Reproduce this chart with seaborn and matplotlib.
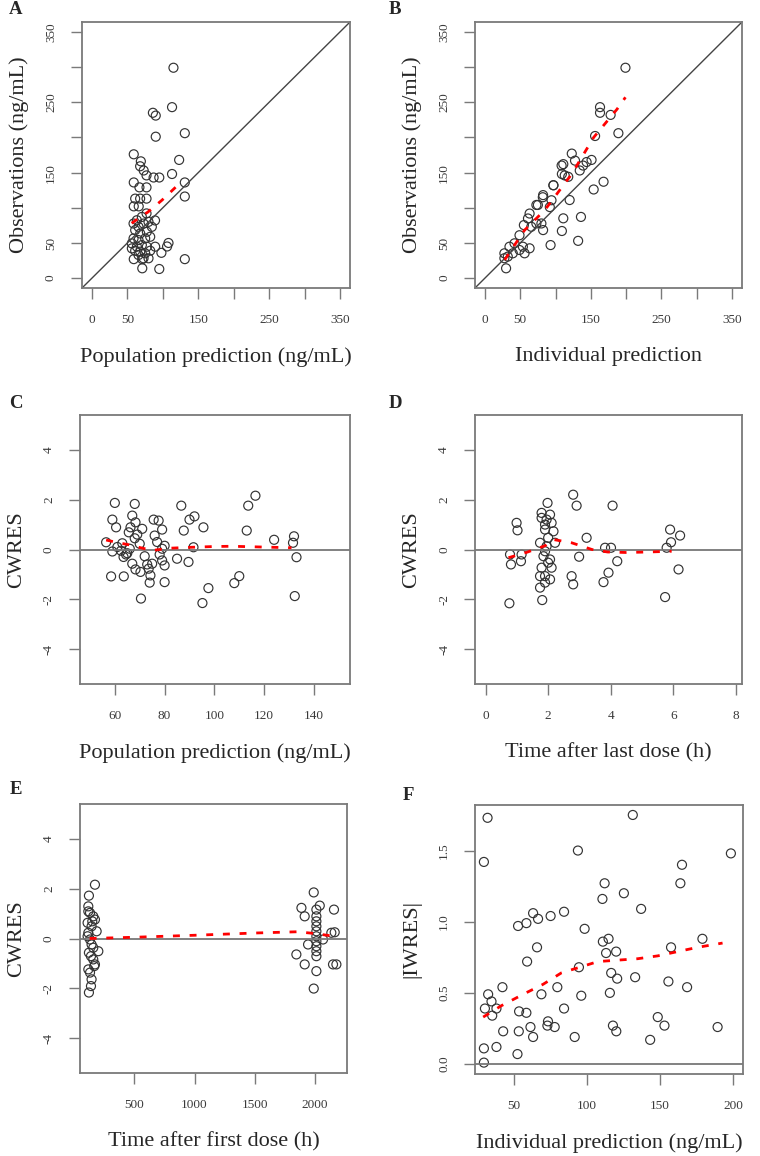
import matplotlib
matplotlib.use("Agg")
import matplotlib.pyplot as plt
import numpy as np
import pandas as pd
import seaborn as sns

# ---- data ----
# A: observations vs population prediction
a_pred = [115, 113, 86, 90, 131, 90, 59, 123, 69, 68, 73, 77, 87, 95, 113, 59, 67, 77,
          131, 131, 61, 68, 77, 59, 66, 77, 89, 108, 106, 98, 131, 71, 95, 59, 71,
          58.7, 65.7, 72.8, 79.8, 61, 68.1, 77.5, 58.7, 65.7, 75.1, 82.2, 56.3, 63.4,
          70.4, 77.5, 61, 68.1, 75.1, 82.2, 56.3, 72.8, 79.8, 65.7, 63.4, 70.4, 84.5, 89.2]
a_obs = [299, 243, 235, 231, 206, 201, 176, 168, 166, 159, 153, 146, 143, 143, 148, 136, 129, 129,
         136, 116, 113, 113, 113, 102, 102, 92, 82, 50, 45, 36, 27, 14, 13, 27, 27,
         77.6, 72.9, 77.6, 80, 68.2, 63.5, 65.9, 56.4, 54.1, 56.4, 58.8, 49.4, 44.7,
         47, 44.7, 39, 37.6, 35.3, 39, 42.3, 28.2, 28.2, 32.9, 82.3, 87, 72.9, 44.7]
a_fit_x = [56, 67, 79, 99, 122, 128]
a_fit_y = [78, 86, 94, 111, 133, 137]

# B: observations vs individual prediction
b_pred = [199, 163, 163, 178, 189, 156, 123, 111, 151, 144, 109, 113, 118, 120, 97, 154, 168,
          82, 75, 111, 136, 109, 132, 93, 30, 108.6, 97, 82.4, 72.9, 63.3, 61, 80, 82.4, 55.2,
          49, 41.9, 34.8, 27.6, 32.4, 53.8, 63.3, 56.2, 27.6, 39.5, 49, 65.7, 72.9, 91.9, 94.3,
          127.6, 134.3, 139]
b_obs = [299, 243, 235, 232, 206, 202, 177, 162, 168, 165, 148, 146, 144, 111, 132, 126, 137,
         115, 104, 85, 87, 67, 53, 47, 14, 160, 132, 118, 104, 91.8, 84.8, 77.7, 68.3, 75.4,
         61, 49.5, 44.7, 35.3, 30.6, 44.7, 42.4, 35.3, 28.3, 35.3, 40, 73, 77.7, 101, 110.7,
         167, 153, 160]
b_fit_x = [28, 56, 85, 123, 154, 187, 199]
b_fit_y = [26, 68, 97, 148, 200, 240, 257]

# C: CWRES vs population prediction
c_pred = [60, 68, 86.7, 116.5, 113.6, 59, 67, 68.3, 66.3, 71, 60.5, 75.6, 77.6, 79, 76, 65.6,
          92, 90, 87.7, 95.6, 113, 124, 132, 131.6, 133, 56.5, 59, 62.5, 64.5, 66, 70, 63.5,
          91.6, 79, 72, 79, 80, 85, 89.6, 67, 68.3, 70.3, 73.6, 74.3, 75, 58.5, 63.6, 74, 80,
          70.5, 97.6, 95.2, 110, 108, 132.3, 61, 63, 65, 68, 69, 77, 80, 78, 73]
c_cwres = [1.87, 1.83, 1.76, 2.16, 1.76, 1.2, 1.36, 1.09, 0.89, 0.83, 0.89, 1.2, 1.16, 0.8, 0.56,
           0.69, 1.33, 1.2, 0.76, 0.89, 0.76, 0.39, 0.53, 0.27, -0.31, 0.29, -0.08, -0.05, -0.2,
           0.03, 0.23, -0.3, 0.09, 0.03, -0.27, -0.44, -0.64, -0.37, -0.5, -0.57, -0.8, -0.9,
           -0.77, -1.04, -0.57, -1.08, -1.08, -1.33, -1.31, -1.97, -1.55, -2.15, -1.07, -1.35,
           -1.87, 0.1, 0.25, -0.15, 0.45, 0.6, 0.3, 0.15, -0.2, -0.6]
c_fit_x = [56.5, 61, 65.6, 70, 75, 81.6, 91, 100, 107, 115, 123, 131]
c_fit_y = [0.38, 0.28, 0.19, 0.08, -0.04, 0.05, 0.09, 0.12, 0.13, 0.11, 0.09, 0.07]

# D: CWRES vs time after last dose
d_time = [0.76, 0.78, 0.81, 1.13, 1.15, 0.99, 1.02,
          1.98, 1.79, 1.95, 2.11, 1.9, 2.17, 1.74, 1.95, 2.22, 1.85, 2.06, 1.79, 2.11, 1.9,
          2.06, 1.74, 1.9, 1.81, 1.74, 2.0, 1.9, 2.0, 1.79, 2.06, 1.9,
          2.8, 2.91, 3.23, 2.99, 2.75, 2.8, 4.06, 3.82, 4.01, 4.21, 3.93, 3.77,
          5.9, 6.22, 5.93, 5.79, 6.17, 5.74]
d_cwres = [-2.16, -0.2, -0.6, -0.47, -0.2, 1.07, 0.77,
           1.87, 1.27, 1.2, 1.07, 0.8, 0.73, 0.27, 0.13, 0.27, -0.27, -0.4, -0.73, -0.73, -1.07,
           -1.2, -1.53, -1.33, -2.03, -1.07, -0.53, -0.07, 0.47, 1.47, 1.4, 1.0,
           2.2, 1.76, 0.47, -0.29, -1.07, -1.4, 1.76, 0.07, 0.07, -0.47, -0.93, -1.31,
           0.8, 0.56, 0.29, 0.07, -0.8, -1.91]
d_fit_x = [0.73, 1.3, 1.9, 2.17, 2.75, 3.4, 3.9, 4.5, 5.2, 5.95]
d_fit_y = [-0.33, -0.12, 0.15, 0.4, 0.27, 0.0, -0.1, -0.12, -0.1, -0.07]

# E: CWRES vs time after first dose
e_time = [174, 124, 119, 133, 160, 174, 113, 146, 188, 119, 133, 146, 202, 124, 160, 174, 119,
          133, 146, 141, 124, 119, 152, 113, 160, 141, 168,
          1989, 2039, 1887, 1914, 2157, 2011, 2011, 2011, 2011, 2011, 2011, 2011, 2011, 2011,
          2011, 2135, 2163, 1942, 2066, 1845, 1914, 2011, 2149, 2177, 1989]
e_cwres = [2.16, 1.72, 1.29, 1.03, 0.89, 0.76, 0.63, 0.49, 0.29, 0.23, -0.04, -0.24, -0.51,
           -0.57, -0.84, -1.04, -1.24, -1.37, -1.64, -1.91, -2.17, 1.09, 0.69, 0.09, -0.37,
           -0.71, -1.11,
           1.85, 1.32, 1.23, 0.89, 1.16, 1.16, 0.89, 0.69, 0.49, 0.29, 0.09, -0.11, -0.31,
           -0.51, -0.71, 0.23, 0.25, -0.24, -0.04, -0.64, -1.04, -1.31, -1.04, -1.04, -2.01]
e_fit_x = [130, 500, 1000, 1500, 1850, 2000, 2170]
e_fit_y = [0.0, 0.05, 0.13, 0.22, 0.27, 0.2, 0.08]

# F: |IWRES| vs individual prediction
f_pred = [31.8, 131.3, 29.3, 93.7, 198.5, 165, 163.9, 112, 125.2, 110.5, 137, 63, 66.4, 58.4,
          52.7, 75, 84.2, 98.3, 110.8, 114.7, 113, 119.9, 157.5, 179, 65.7, 58.9, 94.4, 116.5,
          120.6, 132.9, 155.7, 168.5, 79.6, 68.7, 115.6, 96, 42, 32.2, 34.5, 30, 37.9, 35,
          53.4, 58.4, 84.2, 73.2, 77.8, 72.8, 61.2, 117.7, 120, 148.4, 153, 189.4, 42.5, 53.2,
          63, 91.5, 143.2, 29.3, 37.9, 52.3, 29.3]
f_iwres = [1.73, 1.75, 1.42, 1.50, 1.48, 1.40, 1.27, 1.27, 1.20, 1.16, 1.09, 1.06, 1.02, 0.99,
           0.97, 1.04, 1.07, 0.95, 0.86, 0.88, 0.78, 0.79, 0.82, 0.88, 0.82, 0.72, 0.68, 0.64,
           0.60, 0.61, 0.58, 0.54, 0.54, 0.49, 0.50, 0.48, 0.54, 0.49, 0.44, 0.39, 0.39, 0.34,
           0.37, 0.36, 0.39, 0.30, 0.26, 0.27, 0.26, 0.27, 0.23, 0.33, 0.27, 0.26, 0.23, 0.23,
           0.19, 0.19, 0.17, 0.11, 0.12, 0.07, 0.01]
f_fit_x = [28.8, 41.3, 56.2, 69.8, 82.3, 94.9, 107.4, 121, 134.7, 148.4, 162, 175.7, 192.8]
f_fit_y = [0.33, 0.41, 0.49, 0.56, 0.64, 0.68, 0.72, 0.73, 0.74, 0.76, 0.79, 0.82, 0.85]

W, H = 760, 1156

sns.set_theme(style="white")
plt.rcParams["font.family"] = ["Liberation Serif", "DejaVu Serif"]
plt.rcParams["axes.unicode_minus"] = False

SPINE = "#7a7a7a"
PT = "#333333"


def add_panel(fig, box, letter, letter_xy):
    left, top, right, bottom = box
    ax = fig.add_axes([left / W, 1 - bottom / H, (right - left) / W, (bottom - top) / H])
    fig.text(letter_xy[0] / W, 1 - letter_xy[1] / H, letter, fontsize=13.5, fontweight="bold",
             ha="center", va="center")
    return ax


def style_panel(ax, box, xlabel, ylabel, xlim, ylim, xticks, yticks, xlabels=None, ylabels=None):
    left, top, right, bottom = box
    bw, bh = right - left, bottom - top
    ax.set_xlim(*xlim)
    ax.set_ylim(*ylim)
    ax.set_xticks(xticks)
    ax.set_yticks(yticks)
    if xlabels is not None:
        ax.set_xticklabels(xlabels)
    if ylabels is not None:
        ax.set_yticklabels(ylabels)
    for sp in ax.spines.values():
        sp.set_color(SPINE)
        sp.set_linewidth(1.3)
    ax.tick_params(direction="out", length=8, width=1.0, color=SPINE, labelcolor="#3a3a3a",
                   labelsize=9.5, bottom=True, left=True)
    ax.tick_params(axis="x", pad=11)
    ax.tick_params(axis="y", pad=10)
    plt.setp(ax.get_yticklabels(), rotation=90, va="center")
    ax.set_xlabel(xlabel, fontsize=16)
    ax.set_ylabel(ylabel, fontsize=16)
    ax.xaxis.set_label_coords(0.5, -69 / bh)
    ax.xaxis.label.set_va("center")
    ax.yaxis.set_label_coords(-63 / bw, 0.5)
    ax.yaxis.label.set_va("center")


def draw(ax, x, y, fx, fy):
    sns.scatterplot(x=x, y=y, ax=ax, marker="o", s=42, facecolors="none", edgecolors=PT,
                    linewidths=0.85, legend=False)
    sns.lineplot(x=fx, y=fy, ax=ax, color="red", lw=2, linestyle=(0, (2.5, 3.5)),
                 estimator=None, sort=True, legend=False)


fig = plt.figure(figsize=(W / 100, H / 100), dpi=100)

box_a = (82, 22, 350, 288)
box_b = (475, 22, 742, 288)
box_c = (80, 415, 350, 684)
box_d = (475, 415, 742, 684)
box_e = (80, 804, 347, 1073)
box_f = (475, 805, 743, 1074)

obs_ticks = [0, 50, 100, 150, 200, 250, 300, 350]
obs_labels = ["0", "50", "", "150", "", "250", "", "350"]

ax = add_panel(fig, box_a, "A", (16, 9))
ax.axline((0, 0), slope=1, color="#444444", lw=1)
draw(ax, a_pred, a_obs, a_fit_x, a_fit_y)
style_panel(ax, box_a, "Population prediction (ng/mL)", "Observations (ng/mL)",
            (-14, 364), (-14, 364), obs_ticks, obs_ticks, obs_labels, obs_labels)

ax = add_panel(fig, box_b, "B", (395, 9))
ax.axline((0, 0), slope=1, color="#444444", lw=1)
draw(ax, b_pred, b_obs, b_fit_x, b_fit_y)
style_panel(ax, box_b, "Individual prediction", "Observations (ng/mL)",
            (-14, 364), (-14, 364), obs_ticks, obs_ticks, obs_labels, obs_labels)

cw_ticks = [-4, -2, 0, 2, 4]

ax = add_panel(fig, box_c, "C", (16, 403))
ax.axhline(0, color="#777777", lw=1.3)
draw(ax, c_pred, c_cwres, c_fit_x, c_fit_y)
style_panel(ax, box_c, "Population prediction (ng/mL)", "CWRES",
            (46, 154.5), (-5.4, 5.4), [60, 80, 100, 120, 140], cw_ticks)

ax = add_panel(fig, box_d, "D", (395, 403))
ax.axhline(0, color="#777777", lw=1.3)
draw(ax, d_time, d_cwres, d_fit_x, d_fit_y)
style_panel(ax, box_d, "Time after last dose (h)", "CWRES",
            (-0.34, 8.2), (-5.4, 5.4), [0, 2, 4, 6, 8], cw_ticks)

ax = add_panel(fig, box_e, "E", (16, 790))
ax.axhline(0, color="#777777", lw=1.3)
draw(ax, e_time, e_cwres, e_fit_x, e_fit_y)
style_panel(ax, box_e, "Time after first dose (h)", "CWRES",
            (50, 2265), (-5.4, 5.4), [500, 1000, 1500, 2000], cw_ticks)

ax = add_panel(fig, box_f, "F", (408, 795))
ax.axhline(0, color="#777777", lw=1.3)
draw(ax, f_pred, f_iwres, f_fit_x, f_fit_y)
style_panel(ax, box_f, "Individual prediction (ng/mL)", "|IWRES|",
            (23.2, 206.8), (-0.07, 1.82), [50, 100, 150, 200], [0.0, 0.5, 1.0, 1.5],
            ylabels=["0.0", "0.5", "1.0", "1.5"])

fig.savefig("out.png", dpi=100, facecolor="white")
